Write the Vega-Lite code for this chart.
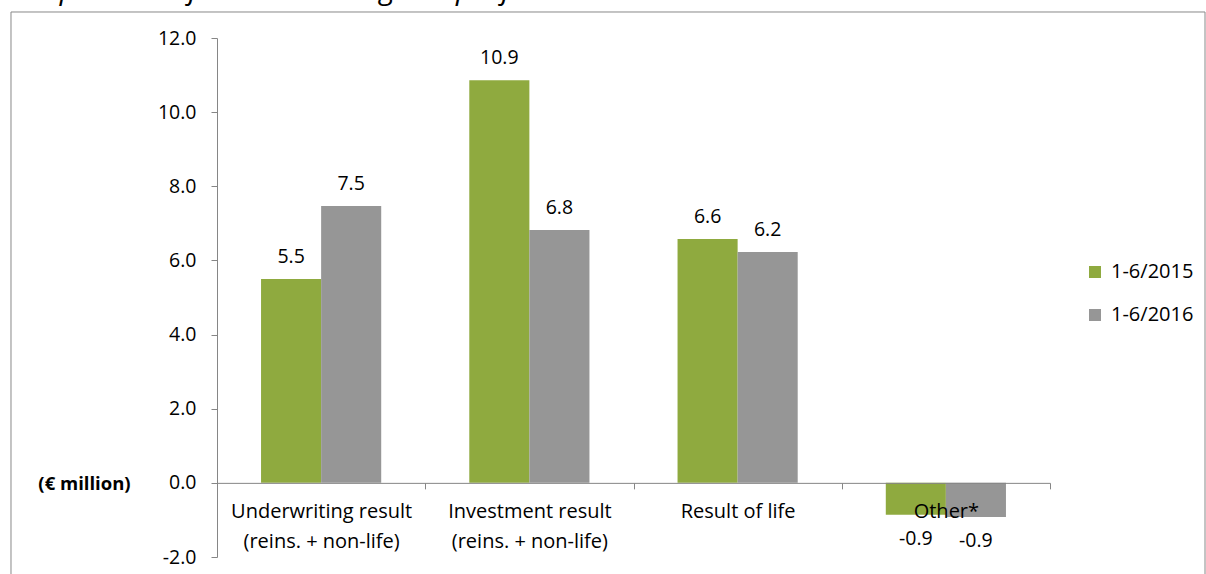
{
  "$schema": "https://vega.github.io/schema/vega-lite/v6.json",
  "width": 833,
  "height": 519,
  "autosize": {"type": "none"},
  "padding": {"left": 217, "top": 38, "right": 156, "bottom": 17},
  "background": "white",
  "title": {
    "text": "Composition of consolidated gross profit",
    "anchor": "start",
    "orient": "top",
    "frame": "group",
    "dx": -217,
    "dy": 22,
    "offset": 5,
    "font": "Open Sans",
    "fontStyle": "italic",
    "fontWeight": "normal",
    "fontSize": 29.5,
    "color": "#000000",
    "baseline": "alphabetic"
  },
  "config": {
    "font": "Open Sans",
    "view": {"stroke": null}
  },
  "datasets": {
    "bars": [
      {"category": "Underwriting result|(reins. + non-life)", "period": "1-6/2015", "value": 5.5},
      {"category": "Underwriting result|(reins. + non-life)", "period": "1-6/2016", "value": 7.47},
      {"category": "Investment result|(reins. + non-life)", "period": "1-6/2015", "value": 10.86},
      {"category": "Investment result|(reins. + non-life)", "period": "1-6/2016", "value": 6.82},
      {"category": "Result of life", "period": "1-6/2015", "value": 6.58},
      {"category": "Result of life", "period": "1-6/2016", "value": 6.23},
      {"category": "Other*", "period": "1-6/2015", "value": -0.86},
      {"category": "Other*", "period": "1-6/2016", "value": -0.92}
    ],
    "frame": [{"x0": 0, "x1": 1, "y0": 0, "y1": 1}]
  },
  "layer": [
    {
      "data": {"name": "frame"},
      "mark": {"type": "rect", "filled": false, "stroke": "#888888", "strokeWidth": 1, "clip": false},
      "encoding": {
        "x": {"field": "x0", "type": "quantitative", "scale": {"domain": [0.17253, 0.87018], "nice": false, "zero": false}, "axis": null},
        "x2": {"field": "x1"},
        "y": {"field": "y0", "type": "quantitative", "scale": {"domain": [0.07313, 0.95578], "nice": false, "zero": false}, "axis": null},
        "y2": {"field": "y1"}
      }
    },
    {
      "data": {"name": "bars"},
      "encoding": {
        "x": {
          "field": "category",
          "type": "nominal",
          "sort": null,
          "scale": {"paddingInner": 0, "paddingOuter": 0},
          "axis": {
            "title": null,
            "labelExpr": "split(datum.label, '|')",
            "labelAngle": 0,
            "labelFont": "Open Sans",
            "labelFontSize": 20,
            "labelColor": "#000000",
            "labelLineHeight": 30,
            "labelPadding": 13,
            "labelBaseline": "top",
            "labelLimit": 400,
            "tickBand": "extent",
            "tickSize": 6,
            "tickColor": "#868686",
            "domainColor": "#868686",
            "offset": -74.14,
            "zindex": 1
          }
        },
        "xOffset": {
          "field": "period",
          "type": "nominal",
          "scale": {"paddingInner": 0, "paddingOuter": 0.733}
        },
        "y": {
          "field": "value",
          "type": "quantitative",
          "scale": {"domain": [-2, 12], "nice": false, "zero": false},
          "axis": {
            "values": [-2, 0, 2, 4, 6, 8, 10, 12],
            "labelExpr": "replace(format(datum.value, '.1f'), '−', '-')",
            "grid": false,
            "tickSize": 6,
            "tickColor": "#868686",
            "domainColor": "#868686",
            "labelFont": "Open Sans",
            "labelFontSize": 19.5,
            "labelColor": "#000000",
            "labelPadding": 15,
            "title": "(€ million)",
            "titleFont": "Open Sans",
            "titleAngle": 0,
            "titleAlign": "center",
            "titleBaseline": "middle",
            "titleX": -133,
            "titleY": 445,
            "titleFontSize": 18.5,
            "titleFontWeight": "bold",
            "titleColor": "#000000"
          }
        }
      },
      "layer": [
        {
          "mark": {"type": "bar"},
          "encoding": {
            "color": {
              "field": "period",
              "type": "nominal",
              "scale": {"domain": ["1-6/2015", "1-6/2016"], "range": ["#8faa3f", "#969696"]},
              "legend": {
                "title": null,
                "orient": "none",
                "legendX": 868,
                "legendY": 224,
                "symbolType": "square",
                "symbolSize": 144,
                "symbolStrokeWidth": 0,
                "labelFont": "Open Sans",
                "labelFontSize": 20,
                "labelColor": "#000000",
                "labelOffset": 6,
                "rowPadding": 23
              }
            }
          }
        },
        {
          "transform": [{"filter": "datum.value >= 0"}],
          "mark": {
            "type": "text",
            "baseline": "alphabetic",
            "dy": -16,
            "fontSize": 19.5,
            "color": "#000000",
            "text": {"expr": "replace(format(datum.value, '.1f'), '−', '-')"}
          }
        },
        {
          "transform": [{"filter": "datum.value < 0"}],
          "mark": {
            "type": "text",
            "baseline": "top",
            "dy": 15,
            "fontSize": 19.5,
            "color": "#000000",
            "text": {"expr": "replace(format(datum.value, '.1f'), '−', '-')"}
          }
        }
      ]
    }
  ],
  "resolve": {"scale": {"x": "independent", "y": "independent"}}
}
